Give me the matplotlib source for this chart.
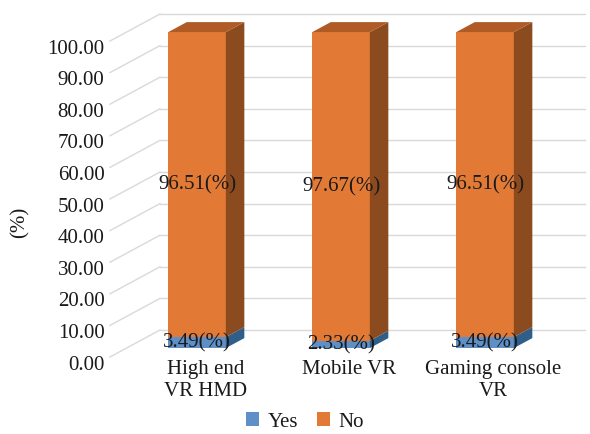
import numpy as np
import matplotlib.pyplot as plt
from matplotlib.patches import Polygon
from matplotlib.transforms import ScaledTranslation

plt.rcParams['font.family'] = ['Liberation Serif', 'DejaVu Serif']

# data
categories = ["High end\nVR HMD", "Mobile VR", "Gaming console\nVR"]
yes_vals = [3.49, 2.33, 3.49]
no_vals = [96.51, 97.67, 96.51]
yticks = list(range(0, 101, 10))

# fake 3d look (in data units)
dxc = 0.347      # full depth, x direction (categories)
dyu = 8.54       # full depth, y direction (value units)
f0, f1 = 0.33, 0.70   # bar front/back depth fraction
bw = 0.40
wall_left = -0.49
wall_right = 2.81

blue, blue_side = '#5E8FC6', '#2F5F88'
orange, orange_side, orange_top = '#E27A36', '#8C4A1F', '#B05B26'
txt = '#1A1A1A'

fig = plt.figure(figsize=(5.9, 4.34), dpi=100)
ax = fig.add_axes([110/590, (434-357)/434, 480/590, 357/434])
ax.set_xlim(wall_left, wall_left + 480/144)
ax.set_ylim(0, 357/3.16)
for s in ax.spines.values():
    s.set_visible(False)
ax.set_xticks([])
ax.set_yticks(yticks, [f"{v:.2f}" for v in yticks])
ax.tick_params(axis='y', length=0, pad=4, labelsize=15, labelcolor=txt)
off = ScaledTranslation(0, -4/72, fig.dpi_scale_trans)
for lab in ax.get_yticklabels():
    lab.set_transform(lab.get_transform() + off)

# walls gridlines
for v in yticks:
    ax.plot([wall_left, wall_left + dxc], [v, v + dyu], color='#D9D9D9', lw=1, zorder=0, clip_on=False)
    ax.plot([wall_left + dxc, wall_right], [v + dyu, v + dyu], color='#D9D9D9', lw=1, zorder=0, clip_on=False)

x = np.arange(len(categories))
xf = x + f0 * dxc
ddx = (f1 - f0) * dxc
ddy = (f1 - f0) * dyu
yes = np.array(yes_vals)
no = np.array(no_vals)

b1 = ax.bar(xf, yes, bw, bottom=f0 * dyu, color=blue, label='Yes', zorder=2)
b2 = ax.bar(xf, no, bw, bottom=yes + f0 * dyu, color=orange, label='No', zorder=2)

def side_top(xc, bottom, top, side_col, top_col=None):
    xr = xc + bw / 2
    xl = xc - bw / 2
    ax.add_patch(Polygon([(xr, bottom), (xr + ddx, bottom + ddy), (xr + ddx, top + ddy), (xr, top)],
                         closed=True, color=side_col, zorder=2, lw=0))
    if top_col:
        ax.add_patch(Polygon([(xl, top), (xr, top), (xr + ddx, top + ddy), (xl + ddx, top + ddy)],
                             closed=True, color=top_col, zorder=2, lw=0))

for i in range(len(x)):
    base = f0 * dyu
    side_top(xf[i], base, base + yes[i], blue_side)
    side_top(xf[i], base + yes[i], base + yes[i] + no[i], orange_side, orange_top)
    ax.text(xf[i], base + yes[i] / 2, f"{yes[i]:.2f}(%)", ha='center', va='center',
            fontsize=15, color=txt, zorder=3)
    ax.text(xf[i], base + yes[i] + no[i] / 2, f"{no[i]:.2f}(%)", ha='center', va='center',
            fontsize=15, color=txt, zorder=3)
    ax.text(x[i] + 0.5 * dxc, -1.1, categories[i], ha='center', va='top', fontsize=15,
            color=txt, linespacing=1.15)

fig.text(20/590, 1 - 222/434, '(%)', rotation=90, ha='center', va='center', fontsize=15, color=txt)

fig.legend(handles=[b1, b2], labels=['Yes', 'No'], loc='center', bbox_to_anchor=(305/590, 1 - 422/434),
           ncol=2, frameon=False, fontsize=15, handlelength=0.63, handleheight=0.63,
           handletextpad=0.43, columnspacing=0.87, labelcolor=txt, borderpad=0.2)

fig.savefig('out.png', dpi=100)
